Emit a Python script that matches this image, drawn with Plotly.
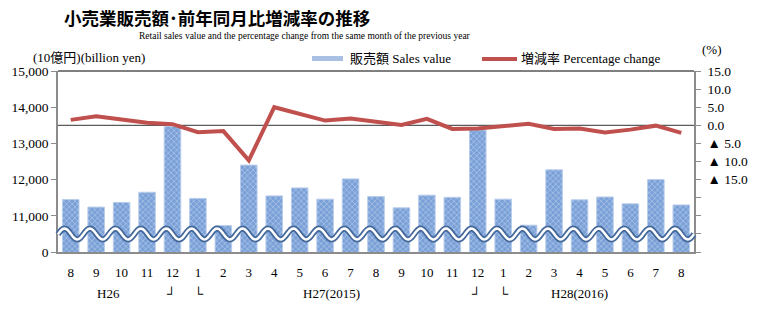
import numpy as np
import plotly.graph_objects as go

# ---------------- data ----------------
months = ["8", "9", "10", "11", "12", "1", "2", "3", "4", "5", "6", "7", "8",
          "9", "10", "11", "12", "1", "2", "3", "4", "5", "6", "7", "8"]
sales = [11450, 11240, 11370, 11650, 13470, 11480, 10730, 12400, 11550, 11770,
         11460, 12020, 11530, 11220, 11570, 11510, 13370, 11460, 10740, 12270,
         11440, 11520, 11330, 12000, 11300]
pct = [1.5, 2.5, 1.6, 0.7, 0.3, -1.9, -1.6, -9.7, 5.0, 3.1, 1.3, 1.9, 0.9,
       0.1, 1.8, -1.0, -0.9, -0.2, 0.4, -1.0, -0.9, -2.0, -1.2, -0.1, -2.1]
left_ticks = [10000, 11000, 12000, 13000, 14000, 15000]
left_labels = ["0", "11,000", "12,000", "13,000", "14,000", "15,000"]
right_ticks = [-35, -30, -25, -20, -15, -10, -5, 0, 5, 10, 15]
right_labels = ["", "", "", "", "▲ 15.0", "▲ 10.0", "▲ 5.0", "0.0", "5.0", "10.0", "15.0"]
era_text = ["H26", "┘", "└", "H27(2015)", "┘", "└", "H28(2016)"]
era_pos = [1.47, 3.95, 5.05, 10.27, 15.95, 17.05, 20.0]

W, H = 776, 322
L, R, T, B = 58, 694, 71, 252
PW, PH = R - L, B - T


def px(x):
    return (x - L) / PW


def py(y):
    return (B - y) / PH


SERIF = "Liberation Serif, Noto Sans CJK JP"
x_idx = list(range(len(months)))

fig = go.Figure()
fig.add_trace(go.Bar(
    x=x_idx, y=sales, name="販売額 Sales value", width=0.65,
    marker=dict(color="#7aa0d8", line=dict(color="#b8ccec", width=1),
                pattern=dict(shape="x", fgcolor="#eef3fb", bgcolor="#7aa0d8",
                             size=4, solidity=0.3)),
    showlegend=False))
fig.add_trace(go.Scatter(
    x=x_idx, y=pct, yaxis="y2", mode="lines", name="増減率 Percentage change",
    line=dict(color="#c0504d", width=4), showlegend=False))

# wave break symbol (decoration)
xs = np.linspace(L, R, 400)
ys = 234 - 5.5 * np.cos(2 * np.pi * (xs - 64.5) / 25.44)
path = "M " + " L ".join(f"{px(a):.5f},{py(b):.5f}" for a, b in zip(xs, ys))

shapes = [
    dict(type="line", xref="paper", yref="y2", x0=0, x1=1, y0=0, y1=0,
         line=dict(color="#333333", width=1), layer="below"),
    dict(type="path", xref="paper", yref="paper", path=path,
         line=dict(color="#44689a", width=6), layer="above"),
    dict(type="path", xref="paper", yref="paper", path=path,
         line=dict(color="#ffffff", width=2.5), layer="above"),
    dict(type="line", xref="paper", yref="paper", x0=0, x1=1, y0=1, y1=1,
         line=dict(color="#000000", width=1)),
    # legend swatches
    dict(type="rect", xref="paper", yref="paper", x0=px(312), x1=px(343),
         y0=py(61), y1=py(56), line=dict(width=0), fillcolor="#a9c0e4"),
    dict(type="line", xref="paper", yref="paper", x0=px(482), x1=px(517),
         y0=py(59), y1=py(59), line=dict(color="#c0504d", width=4)),
]

ann = [
    dict(text="<b>小売業販売額･前年同月比増減率の推移</b>", x=px(217), y=py(18),
         font=dict(family="Noto Sans CJK JP", size=17.5, color="#000000")),
    dict(text="Retail sales value and the percentage change from the same month of the previous year",
         x=px(305), y=py(36), font=dict(family=SERIF, size=9.5, color="#000000")),
    dict(text="(10億円)(billion yen)", x=px(31), y=py(57), xanchor="left",
         font=dict(family=SERIF, size=13, color="#000000")),
    dict(text="(%)", x=px(712), y=py(50),
         font=dict(family=SERIF, size=13, color="#000000")),
    dict(text="販売額 Sales value", x=px(348), y=py(59), xanchor="left",
         font=dict(family=SERIF, size=13, color="#000000")),
    dict(text="増減率 Percentage change", x=px(519), y=py(59), xanchor="left",
         font=dict(family=SERIF, size=13, color="#000000")),
]
for t, p in zip(era_text, era_pos):
    ann.append(dict(text=t, x=p, xref="x", y=py(293),
                    font=dict(family=SERIF, size=13, color="#000000")))
for a in ann:
    a.setdefault("xref", "paper")
    a["yref"] = "paper"
    a["showarrow"] = False
    a.setdefault("xanchor", "center")
    a["yanchor"] = "middle"

fig.update_layout(
    width=W, height=H,
    margin=dict(l=L, r=W - R, t=T, b=H - B, pad=0),
    paper_bgcolor="#ffffff", plot_bgcolor="#ffffff",
    font=dict(family=SERIF, size=13, color="#000000"),
    bargap=0.35,
    xaxis=dict(range=[-0.5, 24.5], tickmode="array", tickvals=x_idx,
               ticktext=months, showgrid=False, zeroline=False,
               showline=True, linecolor="#8c8c8c", linewidth=1.5,
               ticks="", ticklabelstandoff=8,
               tickfont=dict(family=SERIF, size=13)),
    yaxis=dict(range=[10000, 15000], tickmode="array", tickvals=left_ticks,
               ticktext=left_labels, showgrid=False, zeroline=False,
               showline=True, linecolor="#8c8c8c", linewidth=1.5,
               ticks="outside", ticklen=5, tickcolor="#8c8c8c",
               tickfont=dict(family=SERIF, size=13.5)),
    yaxis2=dict(range=[-35, 15], overlaying="y", side="right",
                tickmode="array", tickvals=right_ticks, ticktext=right_labels,
                showgrid=False, zeroline=False, showline=True,
                linecolor="#8c8c8c", linewidth=1.5, ticks="outside",
                ticklen=5, tickcolor="#8c8c8c", ticklabelstandoff=4,
                tickfont=dict(family=SERIF, size=13.5)),
    shapes=shapes, annotations=ann, showlegend=False,
)

fig.write_html("out.html")
